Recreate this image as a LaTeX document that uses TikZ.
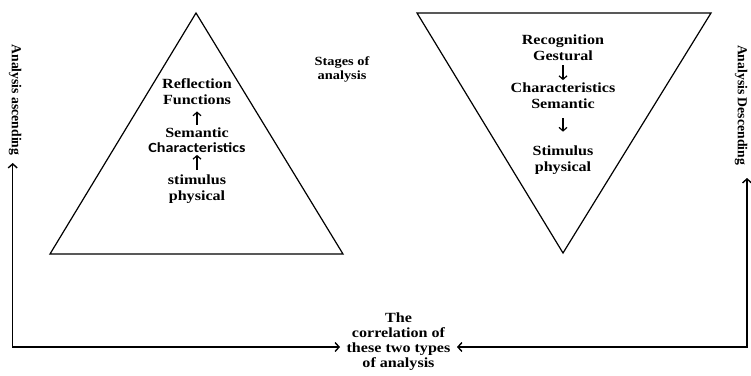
\documentclass[tikz,border=0pt]{standalone}
\usepackage{fontspec}
\setmainfont{Liberation Serif}[FakeStretch=1.15]
\newfontfamily\sidefont{Liberation Serif}
\newfontfamily\calfont{Carlito}[FakeStretch=1.15]
\usetikzlibrary{arrows.meta}
\tikzset{
  tri/.style={line width=1.2pt, line join=miter},
  stage/.style={align=center, inner sep=0pt, font=\fontsize{14}{15.5}\selectfont\bfseries},
  side/.style={inner sep=0pt, rotate=-90, font=\sidefont\fontsize{13.7}{15}\selectfont\bfseries},
  bigarr/.style={line width=1.4pt, {Straight Barb[length=4pt,width=9pt]}-{Straight Barb[length=4pt,width=9pt]}},
  smallarr/.style={line width=1.2pt, -{Straight Barb[length=3.5pt,width=8pt]}}
}

\begin{document}
\begin{tikzpicture}[x=1pt,y=-1pt]
  \useasboundingbox (0,0) rectangle (751,375);
  \draw[tri] (196,13) -- (343,254) -- (50,254) -- cycle;
  \draw[tri] (417,13) -- (711,13) -- (563,253) -- cycle;

  \node[stage] (refl)  at (197, 91.5) {Reflection\\Functions};
  \node[stage] (semL)  at (197,140)   {Semantic\\{\calfont Characteristics}};
  \node[stage] (stimL) at (197,189)   {stimulus\\physical};
  \draw[smallarr, shorten <=2.5pt, shorten >=7pt] (semL) -- (refl);
  \draw[smallarr, shorten <=5pt, shorten >=2pt] (stimL) -- (semL);

  \node[stage] (recog) at (563, 47.5) {Recognition\\Gestural};
  \node[stage] (semR)  at (563, 95.5) {Characteristics\\Semantic};
  \node[stage] (stimR) at (563,160)   {Stimulus\\physical};
  \draw[smallarr, shorten <=5pt, shorten >=2.5pt] (recog) -- (semR);
  \draw[smallarr, shorten <=10pt, shorten >=14pt] (semR) -- (stimR);

  \node[stage, font=\fontsize{12.5}{14}\selectfont\bfseries] (stages) at (342,69.5) {Stages of\\analysis};

  \node[side] (asc)  at (15,100)  {Analysis ascending};
  \node[side] (desc) at (741,105) {Analysis Descending};

  \node[stage, font=\fontsize{14}{15}\selectfont\bfseries] (corr) at (398.5,342) {The\\correlation of\\these two types\\of analysis};
  \coordinate (ascTip)  at (12.7,163);
  \coordinate (descTip) at (747,178);
  \coordinate (inL) at (340,347);
  \coordinate (inR) at (457,347);
  \draw[bigarr] (ascTip) |- (inL);
  \draw[bigarr] (descTip) |- (inR);
\end{tikzpicture}
\end{document}
